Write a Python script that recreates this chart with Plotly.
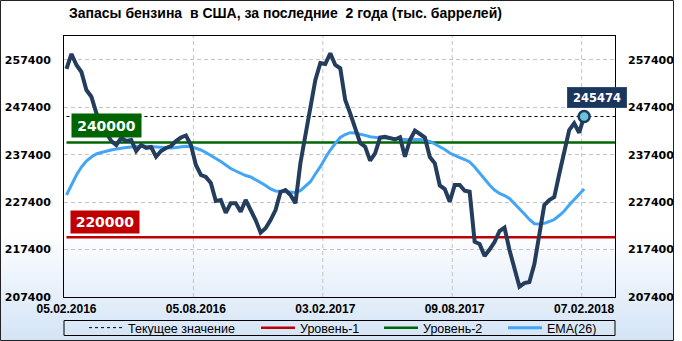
import base64
import plotly.graph_objects as go

# ---------------- data ----------------
title_text = "Запасы бензина \u00a0в США, за последние \u00a02 года (тыс. баррелей)"
date_labels = ["05.02.2016", "05.08.2016", "03.02.2017", "09.08.2017", "07.02.2018"]
date_label_idx = [0, 26, 52, 78, 104]

stocks = [
    255501, 258666, 256345, 254868, 251070, 249657, 246217, 243685, 241997, 240309,
    239465, 240942, 240309, 240520, 238199, 239465, 238832, 239043, 236996, 238199,
    238832, 239254, 240309, 241048, 241470, 239465, 235245, 233135, 232713, 231447,
    227649, 227860, 225180, 227164, 227164, 225391, 227860, 225750, 223640, 220960,
    221889, 223640, 225750, 229548, 229970, 228915, 227164, 235667, 241216, 247546,
    253180, 256767, 256556, 258814, 256345, 255649, 248960, 246154, 243052, 239887,
    239106, 236153, 237714, 241048, 241216, 240942, 240625, 241100, 236996, 240520,
    242482, 241786, 241048, 236933, 235604, 230920, 230181, 227501, 231025, 231025,
    229822, 229611, 219061, 218576, 216044, 217416, 218998, 221319, 222062, 217310,
    213512, 209567, 210347, 210558, 214356, 221108, 226805, 227860, 228493, 233346,
    237799, 242630, 244044, 242060, 245474,
]

ema26 = [
    228915, 231025, 233135, 234823, 236089, 236933, 237566, 237884, 238199, 238410,
    238621, 238832, 238937, 239043, 239148, 239254, 239191, 239106, 238980, 238895,
    238832, 238832, 238937, 239106, 239191, 239148, 238832, 238410, 237883, 237292,
    236722, 235984, 235245, 234507, 233979, 233452, 233030, 232713, 232186, 231553,
    230920, 230181, 229759, 229654, 229548, 229485, 229443, 229822, 230814, 231721,
    233346, 234887, 236722, 238410, 239781, 241048, 241681, 242060, 241997, 241786,
    241491, 241196, 241048, 240942, 240942, 240942, 240837, 240731, 240584, 240520,
    240626, 240626, 240415, 240204, 239676, 239148, 238516, 237777, 237250, 236828,
    236405, 235878, 234823, 233452, 232291, 231025, 229970, 229231, 228809, 228176,
    227121, 226107, 224906, 223745, 222859, 222796, 222942, 223323, 223745, 224589,
    225539, 226805, 227966, 229126, 230181,
]

level_1 = 220000
level_2 = 240000
y_ticks = [207400, 217400, 227400, 237400, 247400, 257400]

legend_names = ["Текущее значение", "Уровень-1", "Уровень-2", "EMA(26)"]

# ---------------- styling ----------------
W, H = 682, 341
ML, MR, MT, MB = 64, 67, 36, 44
PW, PH = W - ML - MR, H - MT - MB

def px_x(p):
    return (p - ML) / PW

def px_y(p):
    return (H - MB - p) / PH

NAVY = "#243d5c"
EMA_C = "#42a5f5"
RED = "#c00000"
GREEN = "#006400"
GRID = "#c4c4c4"

x = list(range(len(stocks)))
x_range = [-0.5, 110.2]
y_range = [207400, 262460]
last_x, last_y = x[-1], stocks[-1]

# legend entry text widths (px) to space entries like the reference
legend_widths = [123, 74, 75, 50]

fig = go.Figure()

fig.add_trace(go.Scatter(
    x=[0, x_range[1]], y=[last_y, last_y], mode="lines", name=legend_names[0],
    line=dict(color="#000000", width=1, dash="3px,3px"), hoverinfo="skip",
    legendwidth=legend_widths[0]))
fig.add_trace(go.Scatter(
    x=[0, x_range[1]], y=[level_1, level_1], mode="lines", name=legend_names[1],
    line=dict(color=RED, width=2.5), hoverinfo="skip", legendwidth=legend_widths[1]))
fig.add_trace(go.Scatter(
    x=[0, x_range[1]], y=[level_2, level_2], mode="lines", name=legend_names[2],
    line=dict(color=GREEN, width=2.5), hoverinfo="skip", legendwidth=legend_widths[2]))
fig.add_trace(go.Scatter(
    x=x, y=ema26, mode="lines", name=legend_names[3],
    line=dict(color=EMA_C, width=3), legendwidth=legend_widths[3]))
fig.add_trace(go.Scatter(
    x=x, y=stocks, mode="lines", showlegend=False,
    line=dict(color=NAVY, width=4, shape="linear")))
fig.add_trace(go.Scatter(
    x=[last_x], y=[last_y], mode="markers", showlegend=False,
    marker=dict(size=11, color="#6cc3d6", line=dict(color="#1b3a5e", width=2.5))))
# dummy trace for the right-hand axis
fig.add_trace(go.Scatter(x=[None], y=[None], yaxis="y2", showlegend=False, hoverinfo="skip"))

# background gradient
svg = (
    '<svg xmlns="http://www.w3.org/2000/svg" width="673" height="340" preserveAspectRatio="none">'
    '<defs><linearGradient id="g" x1="0" y1="0" x2="0" y2="1">'
    '<stop offset="0" stop-color="#ffffff"/><stop offset="0.68" stop-color="#ffffff"/>'
    '<stop offset="1" stop-color="#d4e4f6"/></linearGradient></defs>'
    '<rect width="673" height="340" fill="url(#g)"/></svg>'
)
src = "data:image/svg+xml;base64," + base64.b64encode(svg.encode("utf-8")).decode("ascii")

shapes = []
# vertical dashed grid lines at category boundaries
for idx in date_label_idx[1:]:
    shapes.append(dict(type="line", xref="x", yref="paper", x0=idx - 0.5, x1=idx - 0.5,
                       y0=0, y1=1, line=dict(color=GRID, width=1, dash="4px,3px"), layer="below"))
# legend frame
shapes.append(dict(type="rect", xref="paper", yref="paper", x0=0, x1=1,
                   y0=px_y(335.5), y1=px_y(320.5), line=dict(color="#000000", width=1)))
# outer frame
shapes.append(dict(type="rect", xref="paper", yref="paper", x0=px_x(0.5), x1=px_x(673.5),
                   y0=px_y(340.5), y1=px_y(0.5), line=dict(color="#222222", width=1)))

LBL_FONT = "DejaVu Sans"
annotations = [
    dict(text="<b>" + title_text + "</b>", xref="paper", yref="paper",
         x=px_x(67), y=px_y(13), xanchor="left", yanchor="middle", showarrow=False,
         font=dict(family="Liberation Sans", size=14, color="#000000")),
    dict(text="<b>%d</b>" % level_2, xref="paper", yref="y", x=px_x(71), y=level_2,
         xanchor="left", yanchor="middle", yshift=17, showarrow=False,
         width=69, height=23, borderpad=0, bgcolor=GREEN,
         font=dict(family=LBL_FONT, size=14, color="#ffffff")),
    dict(text="<b>%d</b>" % level_1, xref="paper", yref="y", x=px_x(70), y=level_1,
         xanchor="left", yanchor="middle", yshift=15, showarrow=False,
         width=68, height=22, borderpad=0, bgcolor=RED,
         font=dict(family=LBL_FONT, size=14, color="#ffffff")),
    dict(text="<b>%d</b>" % last_y, xref="x", yref="y", x=last_x, y=last_y,
         xanchor="center", yanchor="middle", xshift=13, yshift=19, showarrow=False,
         width=58, height=19, borderpad=0, bgcolor="#1b365d", bordercolor="#2f4f75", borderwidth=1,
         font=dict(family=LBL_FONT, size=11.5, color="#ffffff")),
]

fig.update_layout(
    width=W, height=H,
    margin=dict(l=ML, r=MR, t=MT, b=MB, autoexpand=False),
    paper_bgcolor="#ffffff", plot_bgcolor="rgba(0,0,0,0)",
    showlegend=True,
    legend=dict(orientation="h", x=px_x(343), xanchor="center", y=px_y(328), yanchor="middle",
                bgcolor="rgba(0,0,0,0)", borderwidth=0, itemwidth=34,
                font=dict(family="Liberation Sans", size=12.5, color="#000000"),
                tracegroupgap=0),
    xaxis=dict(range=x_range, tickvals=date_label_idx, ticktext=date_labels,
               showgrid=False, zeroline=False, showline=True, mirror=True,
               linecolor="#000000", linewidth=1, ticks="", ticklabelstandoff=1,
               tickfont=dict(family="Liberation Sans", size=12, color="#000000", weight="bold")),
    yaxis=dict(range=y_range, tickvals=y_ticks, ticktext=[str(v) for v in y_ticks],
               showgrid=True, gridcolor=GRID, griddash="4px,3px", gridwidth=1,
               zeroline=False, showline=True, mirror=True, linecolor="#000000", linewidth=1,
               ticks="", ticklabelstandoff=10,
               tickfont=dict(family=LBL_FONT, size=11, color="#000000", weight="bold")),
    yaxis2=dict(range=y_range, tickvals=y_ticks, ticktext=[str(v) for v in y_ticks],
                overlaying="y", side="right", showgrid=False, zeroline=False, showline=False,
                ticks="", ticklabelstandoff=12,
                tickfont=dict(family=LBL_FONT, size=11, color="#000000", weight="bold")),
    images=[dict(source=src, xref="paper", yref="paper", x=px_x(0), y=px_y(0),
                 sizex=673 / PW, sizey=340 / PH, xanchor="left", yanchor="top",
                 sizing="stretch", layer="below")],
    shapes=shapes,
    annotations=annotations,
    hovermode=False,
)

fig.write_html("out.html")
